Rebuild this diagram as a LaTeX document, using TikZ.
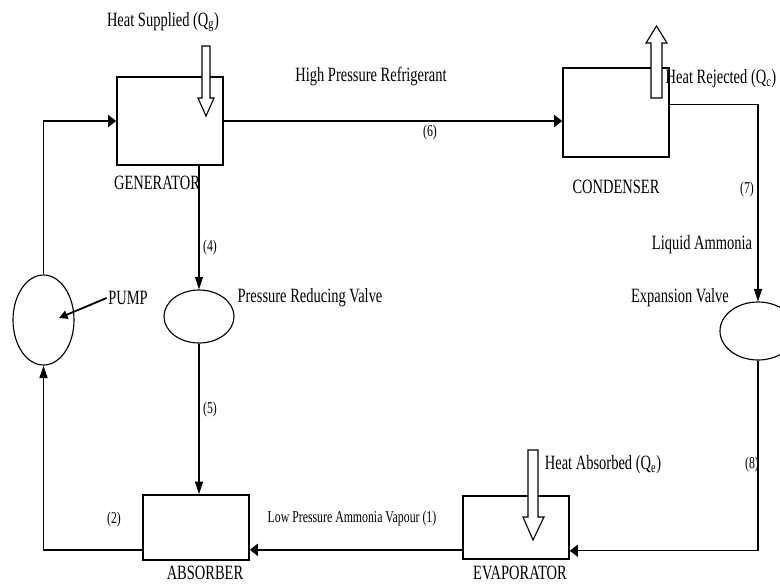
\documentclass[tikz,border=0pt]{standalone}
\usepackage{fontspec}
\setmainfont{Liberation Serif}
\usepackage{graphicx}
\usetikzlibrary{arrows.meta,calc,shapes.geometric}

% text in the source is drawn taller than it is wide
\newcommand{\tall}[1]{\scalebox{1}[1.4]{#1}}

\tikzset{
  unit/.style={draw, line width=1.1pt, minimum width=2.65cm, inner sep=0pt},
  valve/.style={draw, ellipse, line width=0.8pt, inner sep=0pt},
  lbl/.style={inner sep=1pt, font=\fontsize{10.3}{12}\selectfont},
  num/.style={inner sep=1pt, font=\fontsize{8.4}{10}\selectfont},
  flow/.style={line width=1.3pt},
  thinflow/.style={line width=1pt},
  htip/.style={-{Triangle[length=5.7pt,width=8.5pt]}},
  vtip/.style={-{Triangle[length=9pt,width=5.7pt]}},
  hollow/.style={draw, fill=white, line width=0.8pt, line join=miter}
}

\begin{document}
\begin{tikzpicture}[x=0.025cm, y=-0.025cm]
  \useasboundingbox (0,0) rectangle (780,585);

  % Components
  \node[unit, minimum height=2.2cm] (gen) at (170,121) {};
  \node[unit, minimum height=2.225cm] (cond) at (616,112.5) {};
  \node[unit, minimum height=1.625cm] (abs) at (196,527.5) {};
  \node[unit, minimum height=1.575cm] (evap) at (516,527.5) {};
  \node[valve, minimum width=1.525cm, minimum height=2.25cm] (pump) at (43.5,320) {};
  \node[valve, minimum width=1.75cm, minimum height=1.325cm] (prv) at (199,316.5) {};
  \node[valve, minimum width=1.9cm, minimum height=1.45cm] (expv) at (758,331) {};

  % Component names
  \node[lbl] (genlbl) at (157,183) {\tall{GENERATOR}};
  \node[lbl] (condlbl) at (616,187) {\tall{CONDENSER}};
  \node[lbl] (abslbl) at (205,573) {\tall{ABSORBER}};
  \node[lbl] (evaplbl) at (520,573) {\tall{EVAPORATOR}};
  \node[lbl] (pumplbl) at (128,298) {\tall{PUMP}};
  \node[lbl] (prvlbl) at (310,298) {\tall{Pressure Reducing Valve}};
  \node[lbl] (expvlbl) at (680,298) {\tall{Expansion Valve}};

  % Stream labels
  \node[lbl] (hprlbl) at (371,77) {\tall{High Pressure Refrigerant}};
  \node[lbl] (liqlbl) at (702,245) {\tall{Liquid Ammonia}};
  \node[num] (lplbl) at (352,519) {\tall{Low Pressure Ammonia Vapour (1)}};
  \node[num] (s2) at (114,520) {\tall{(2)}};
  \node[num] (s4) at (210,248) {\tall{(4)}};
  \node[num] (s5) at (210,410) {\tall{(5)}};
  \node[num] (s6) at (430,133) {\tall{(6)}};
  \node[num] (s7) at (747,190) {\tall{(7)}};
  \node[num] (s8) at (752,465) {\tall{(8)}};

  % Heat labels
  \node[lbl] (qglbl) at (163,22) {\tall{Heat Supplied (Q\textsubscript{g})}};
  \node[lbl] (qclbl) at (721,79) {\tall{Heat Rejected (Q\textsubscript{c})}};
  \node[lbl] (qelbl) at (603,465) {\tall{Heat Absorbed (Q\textsubscript{e})}};

  % Free ends of the flow lines
  \coordinate (condout) at ($(cond.north east)+(0,37)$);
  \coordinate (evapin) at ($(evap.south east)+(0,-9)$);
  \coordinate (evapout) at ($(evap.south west)+(0,-10)$);
  \coordinate (absout) at ($(abs.south west)+(0,-11)$);
  \coordinate (pumptip) at (59,318);

  % Flow lines
  \draw[flow, htip] (gen.east) -- (gen.east -| cond.west);
  \draw[thinflow, vtip] (condout) -| (expv.north);
  \draw[thinflow, htip] (expv.south) |- (evapin);
  \draw[flow, htip] (evapout) -- (evapout -| abs.east);
  \draw[flow, vtip] (absout) -| (pump.south);
  \draw[flow, htip] (pump.north) |- (gen.west);
  \draw[thinflow, vtip] (gen.south -| prv.north) -- (prv.north);
  \draw[thinflow, vtip] (prv.south) -- (prv.south |- abs.north);
  \draw[flow, -{Triangle[length=6pt,width=6pt]}] (pumplbl.west) -- (pumptip);

  % Heat arrows
  \draw[hollow] (202,46) -- (210,46) -- (210,98) -- (214,98) -- (206,116) -- (198,98) -- (202,98) -- cycle;
  \draw[hollow] (651,98) -- (662,98) -- (662,43) -- (667,43) -- (656.5,26) -- (646,43) -- (651,43) -- cycle;
  \draw[hollow] (528,450) -- (538,450) -- (538,517) -- (544,517) -- (533,540) -- (523,517) -- (528,517) -- cycle;
\end{tikzpicture}
\end{document}
